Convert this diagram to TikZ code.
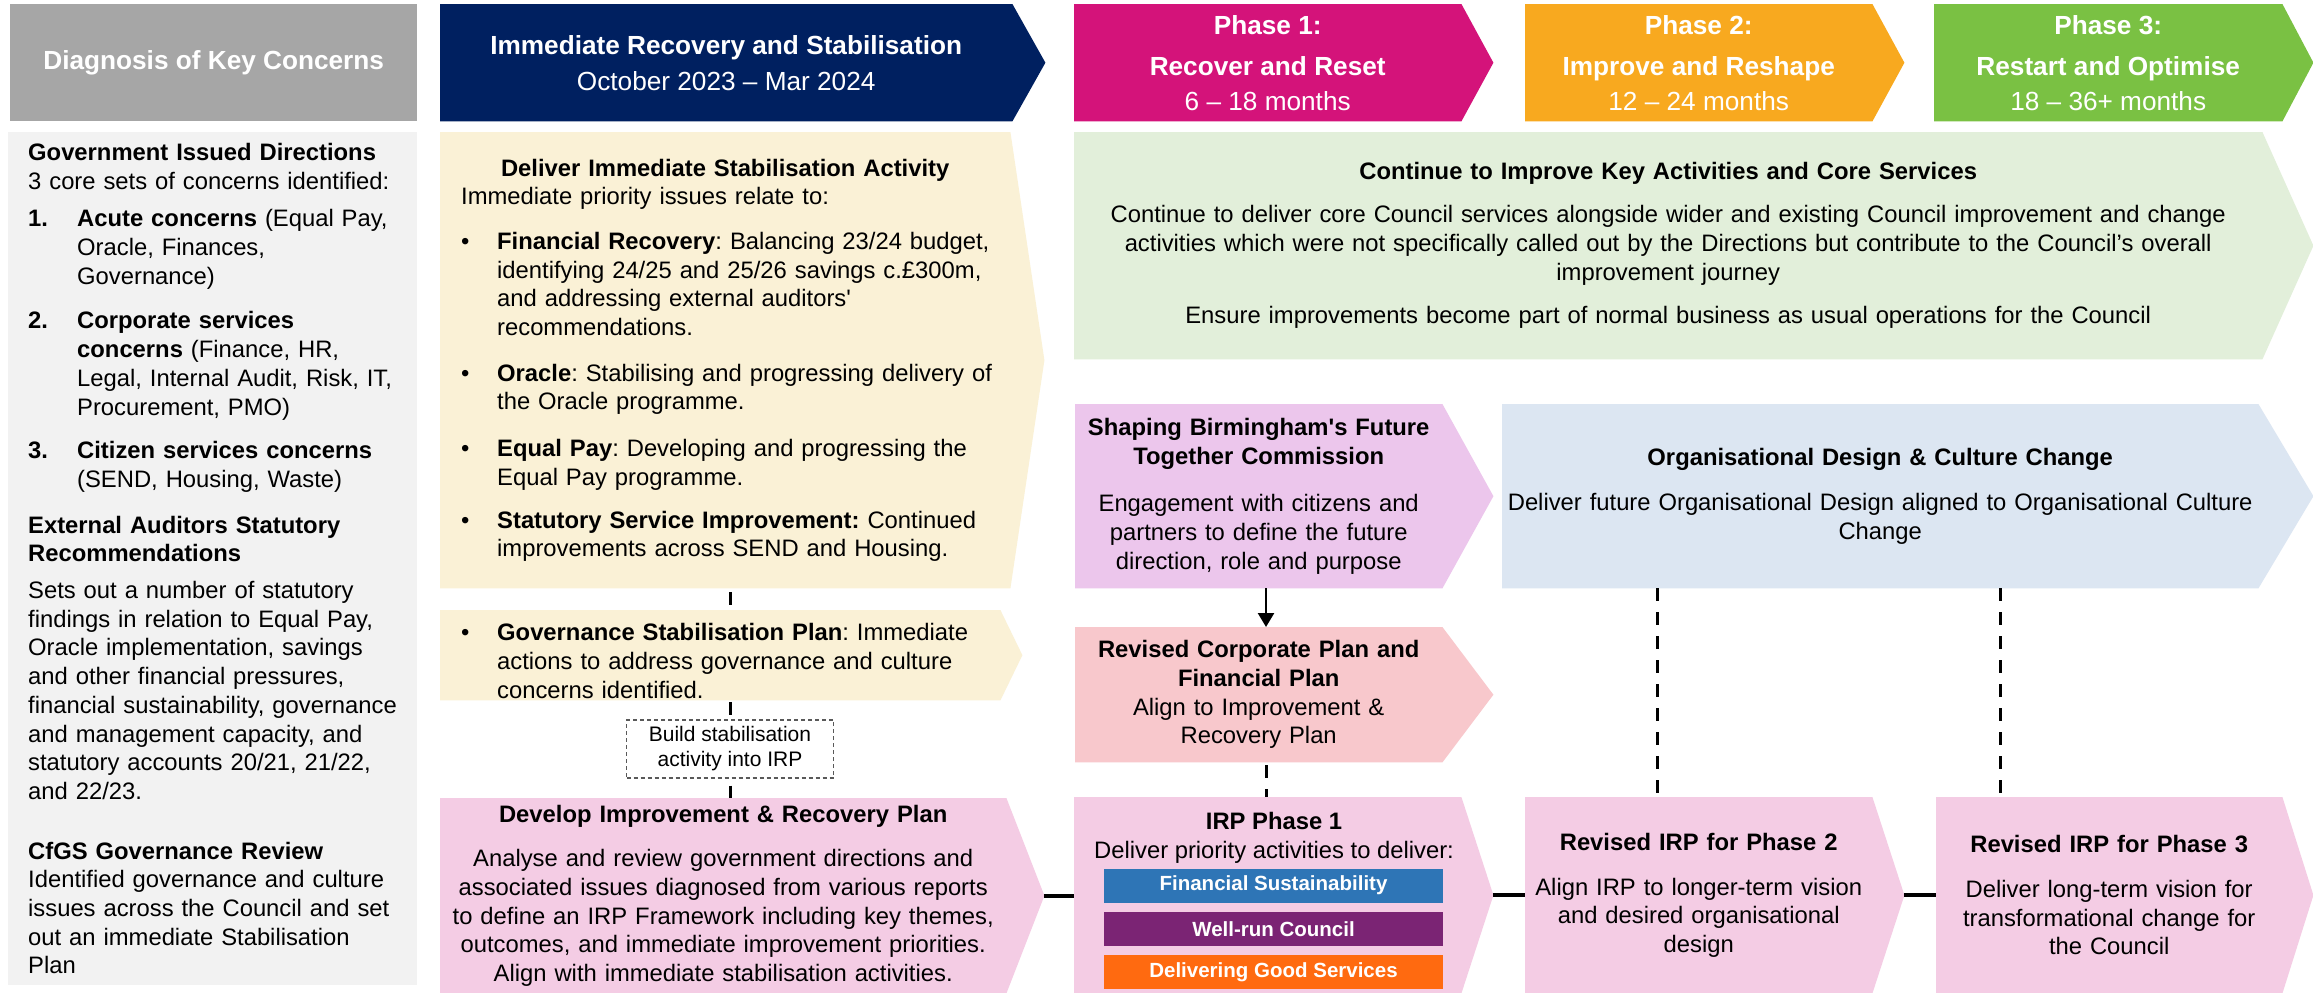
\documentclass[tikz,border=0pt]{standalone}
\usepackage{fontspec}
\setmainfont{Liberation Sans}
\usetikzlibrary{arrows.meta,positioning}

\definecolor{headgrey}{HTML}{A6A6A6}
\definecolor{navy}{HTML}{002060}
\definecolor{phaseone}{HTML}{D4137A}
\definecolor{phasetwo}{HTML}{F8A91F}
\definecolor{phasethree}{HTML}{7AC143}
\definecolor{panelgrey}{HTML}{F2F2F2}
\definecolor{stabyellow}{HTML}{FAF1D6}
\definecolor{coregreen}{HTML}{E2EFDA}
\definecolor{shapepink}{HTML}{ECC6EC}
\definecolor{corppink}{HTML}{F8C8CC}
\definecolor{orgblue}{HTML}{DCE6F2}
\definecolor{irppink}{HTML}{F4CCE4}
\definecolor{finblue}{HTML}{2E75B6}
\definecolor{wellpurple}{HTML}{7B2474}
\definecolor{goodorange}{HTML}{FF6A10}
\definecolor{notegrey}{HTML}{595959}

\pgfdeclarelayer{background}
\pgfsetlayers{background,main}

\hyphenpenalty=10000
\exhyphenpenalty=10000
\frenchspacing

% chevron behind a node: name, colour, depth of the point
\newcommand{\chevron}[3]{%
  \fill[#2] (#1.north west) -- (#1.north east) -- ([xshift=#3]#1.east) coordinate (#1 tip)
    -- (#1.south east) -- (#1.south west) -- cycle;}
% paragraph with a hanging label
\newcommand{\hangitem}[3]{\par\hangindent=#1\hangafter=1\noindent\makebox[#1][l]{#2}#3\par}

\begin{document}
\begin{tikzpicture}[x=1pt, y=-1pt, font=\fontsize{23.8}{28.7}\selectfont]
	\tikzstyle{head} = [anchor=north west, inner sep=0pt, minimum height=117pt, text=white,
	align=center, font=\fontsize{26.2}{31}\selectfont]
	\tikzstyle{panel} = [anchor=north west, inner sep=0pt, align=center]
	\tikzstyle{bar} = [minimum width=339pt, minimum height=34pt, inner sep=0pt, text=white,
	font=\fontsize{20.5}{24}\selectfont\bfseries]
	\tikzstyle{link} = [line width=3pt, dash pattern=on 13pt off 11pt]
	\tikzstyle{flow} = [line width=4pt]
	\tikzstyle{arrow} = [line width=2.5pt, -{Triangle[width=16pt,length=14pt]}]
	\useasboundingbox (0,0) rectangle (2313,993);
	% column headings
	\node (diagHead) [head, fill=headgrey, minimum width=407pt] at (10,4) {\textbf{Diagnosis of Key Concerns}};
	\node (stabHead) [head, minimum width=572pt] at (440,4) {\textbf{Immediate Recovery and Stabilisation}\\[5pt]October 2023 – Mar 2024};
	\node (oneHead) [head, minimum width=387pt] at (1074,4) {\textbf{Phase 1:}\\[10pt]\textbf{Recover and Reset}\\[4pt]6 – 18 months};
	\node (twoHead) [head, minimum width=347pt] at (1525,4) {\textbf{Phase 2:}\\[10pt]\textbf{Improve and Reshape}\\[4pt]12 – 24 months};
	\node (threeHead) [head, minimum width=348pt] at (1934,4) {\textbf{Phase 3:}\\[10pt]\textbf{Restart and Optimise}\\[4pt]18 – 36+ months};
	% diagnosis column
	\node (concerns) [panel, fill=panelgrey, minimum width=409pt, minimum height=853pt, text width=409pt, align=left] at (8,132) {%
		\leftskip=20pt
		\textbf{Government Issued Directions}\\
		3 core sets of concerns identified:\par\vspace{9pt}
		\hangitem{49pt}{\textbf{1.}}{\textbf{Acute concerns} (Equal Pay,\newline Oracle, Finances,\newline Governance)}\vspace{16pt}
		\hangitem{49pt}{\textbf{2.}}{\textbf{Corporate services}\newline\textbf{concerns} (Finance, HR,\newline Legal, Internal Audit, Risk, IT,\newline Procurement, PMO)}\vspace{15pt}
		\hangitem{49pt}{\textbf{3.}}{\textbf{Citizen services concerns}\newline(SEND, Housing, Waste)}\vspace{17pt}
		\textbf{External Auditors Statutory}\\\textbf{Recommendations}\par\vspace{8pt}
		Sets out a number of statutory\\findings in relation to Equal Pay,\\Oracle implementation, savings\\and other financial pressures,\\financial sustainability, governance\\and management capacity, and\\statutory accounts 20/21, 21/22,\\and 22/23.\par\vspace{31pt}
		\textbf{CfGS Governance Review}\\Identified governance and culture\\issues across the Council and set\\out an immediate Stabilisation\\Plan\par};
	% stabilisation column
	\node (stab) [panel, minimum width=570pt, minimum height=456pt, text width=570pt, align=left] at (440,132) {%
		{\centering\textbf{Deliver Immediate Stabilisation Activity}\par}
		\leftskip=21pt
		Immediate priority issues relate to:\par\vspace{16pt}
		\hangitem{36pt}{\textbullet}{\textbf{Financial Recovery}: Balancing 23/24 budget,\newline identifying 24/25 and 25/26 savings c.£300m,\newline and addressing external auditors\textquotesingle\newline recommendations.}\vspace{17pt}
		\hangitem{36pt}{\textbullet}{\textbf{Oracle}: Stabilising and progressing delivery of\newline the Oracle programme.}\vspace{18pt}
		\hangitem{36pt}{\textbullet}{\textbf{Equal Pay}: Developing and progressing the\newline Equal Pay programme.}\vspace{14pt}
		\hangitem{36pt}{\textbullet}{\textbf{Statutory Service Improvement:} Continued\newline improvements across SEND and Housing.}};
	\node (gov) [panel, minimum width=560pt, minimum height=90pt, text width=560pt, align=left] at (440,610) {%
		\leftskip=21pt
		\hangitem{36pt}{\textbullet}{\textbf{Governance Stabilisation Plan}: Immediate\newline actions to address governance and culture\newline concerns identified.}};
	\node (build) [draw=notegrey, line width=1.2pt, dash pattern=on 4pt off 3pt, fill=white, minimum width=207pt,
	minimum height=58pt, inner sep=0pt, align=center, font=\fontsize{21}{25}\selectfont] at (730,749) {Build stabilisation\\activity into IRP};
	\node (dev) [panel, minimum width=566pt, minimum height=195pt, text width=566pt] at (440,798) {%
		\textbf{Develop Improvement \& Recovery Plan}\\[16pt]Analyse and review government directions and\\associated issues diagnosed from various reports\\to define an IRP Framework including key themes,\\outcomes, and immediate improvement priorities.\\Align with immediate stabilisation activities.};
	% phase columns
	\node (core) [panel, minimum width=1188pt, minimum height=227pt, text width=1180pt] at (1074,132) {%
		\textbf{Continue to Improve Key Activities and Core Services}\\[14pt]Continue to deliver core Council services alongside wider and existing Council improvement and change\\activities which were not specifically called out by the Directions but contribute to the Council’s overall\\improvement journey\\[15pt]Ensure improvements become part of normal business as usual operations for the Council};
	\node (shape) [panel, minimum width=367pt, minimum height=184pt, text width=360pt] at (1075,404) {%
		\textbf{Shaping Birmingham\textquotesingle s Future}\\\textbf{Together Commission}\\[19pt]Engagement with citizens and\\partners to define the future\\direction, role and purpose};
	\node (corp) [panel, minimum width=367pt, minimum height=135pt, text width=360pt] at (1075,627) {%
		\textbf{Revised Corporate Plan and}\\\textbf{Financial Plan}\\Align to Improvement \&\\Recovery Plan};
	\node (org) [panel, minimum width=756pt, minimum height=184pt, text width=750pt] at (1502,404) {%
		\textbf{Organisational Design \& Culture Change}\\[16pt]Deliver future Organisational Design aligned to Organisational Culture\\Change};
	\node (irpa) [panel, minimum width=387pt, minimum height=196pt] at (1074,797) {};
	\node (irpaText) [align=center, inner sep=0pt] at (1274,838) {\textbf{IRP Phase 1}\\Deliver priority activities to deliver:};
	\node (fin) [bar, fill=finblue] at (1273.5,885.5) {Financial Sustainability};
	\node (well) [bar, fill=wellpurple, below=9pt of fin] {Well-run Council};
	\node (good) [bar, fill=goodorange, below=9pt of well] {Delivering Good Services};
	\node (irpb) [panel, minimum width=347pt, minimum height=196pt, text width=340pt] at (1525,797) {%
		\textbf{Revised IRP for Phase 2}\\[16pt]Align IRP to longer-term vision\\and desired organisational\\design};
	\node (irpc) [panel, minimum width=346pt, minimum height=196pt, text width=340pt] at (1936,797) {%
		\textbf{Revised IRP for Phase 3}\\[16pt]Deliver long-term vision for\\transformational change for\\the Council};
	\begin{pgfonlayer}{background}
		\fill[white] (0,0) rectangle (2313,993);
		\chevron{stabHead}{navy}{33pt}
		\chevron{oneHead}{phaseone}{32pt}
		\chevron{twoHead}{phasetwo}{32pt}
		\chevron{threeHead}{phasethree}{31pt}
		\chevron{stab}{stabyellow}{34pt}
		\chevron{gov}{stabyellow}{22pt}
		\chevron{dev}{irppink}{38pt}
		\chevron{core}{coregreen}{51pt}
		\chevron{shape}{shapepink}{51pt}
		\chevron{corp}{corppink}{51pt}
		\chevron{org}{orgblue}{55pt}
		\chevron{irpa}{irppink}{32pt}
		\chevron{irpb}{irppink}{32pt}
		\chevron{irpc}{irppink}{31pt}
	\end{pgfonlayer}
	% connectors
	\coordinate (planLine) at (1266,0);
	\coordinate (orgLineA) at (1657,0);
	\coordinate (orgLineB) at (2000,0);
	\draw [link, shorten <=4pt] (stab.south -| build) -- (gov.north -| build);
	\draw [link, shorten <=2pt] (gov.south -| build) -- (build.north);
	\draw [link, shorten <=7pt] (build.south) -- (dev.north -| build);
	\draw [arrow] (shape.south -| planLine) -- (corp.north -| planLine);
	\draw [link, shorten <=3pt] (corp.south -| planLine) -- (irpa.north -| planLine);
	\draw [link] (org.south -| orgLineA) -- (irpb.north -| orgLineA);
	\draw [link] (org.south -| orgLineB) -- (irpc.north -| orgLineB);
	\draw [flow] (dev tip) -- (dev tip -| irpa.west);
	\draw [flow] (irpa tip) -- (irpa tip -| irpb.west);
	\draw [flow] (irpb tip) -- (irpb tip -| irpc.west);
\end{tikzpicture}
\end{document}
